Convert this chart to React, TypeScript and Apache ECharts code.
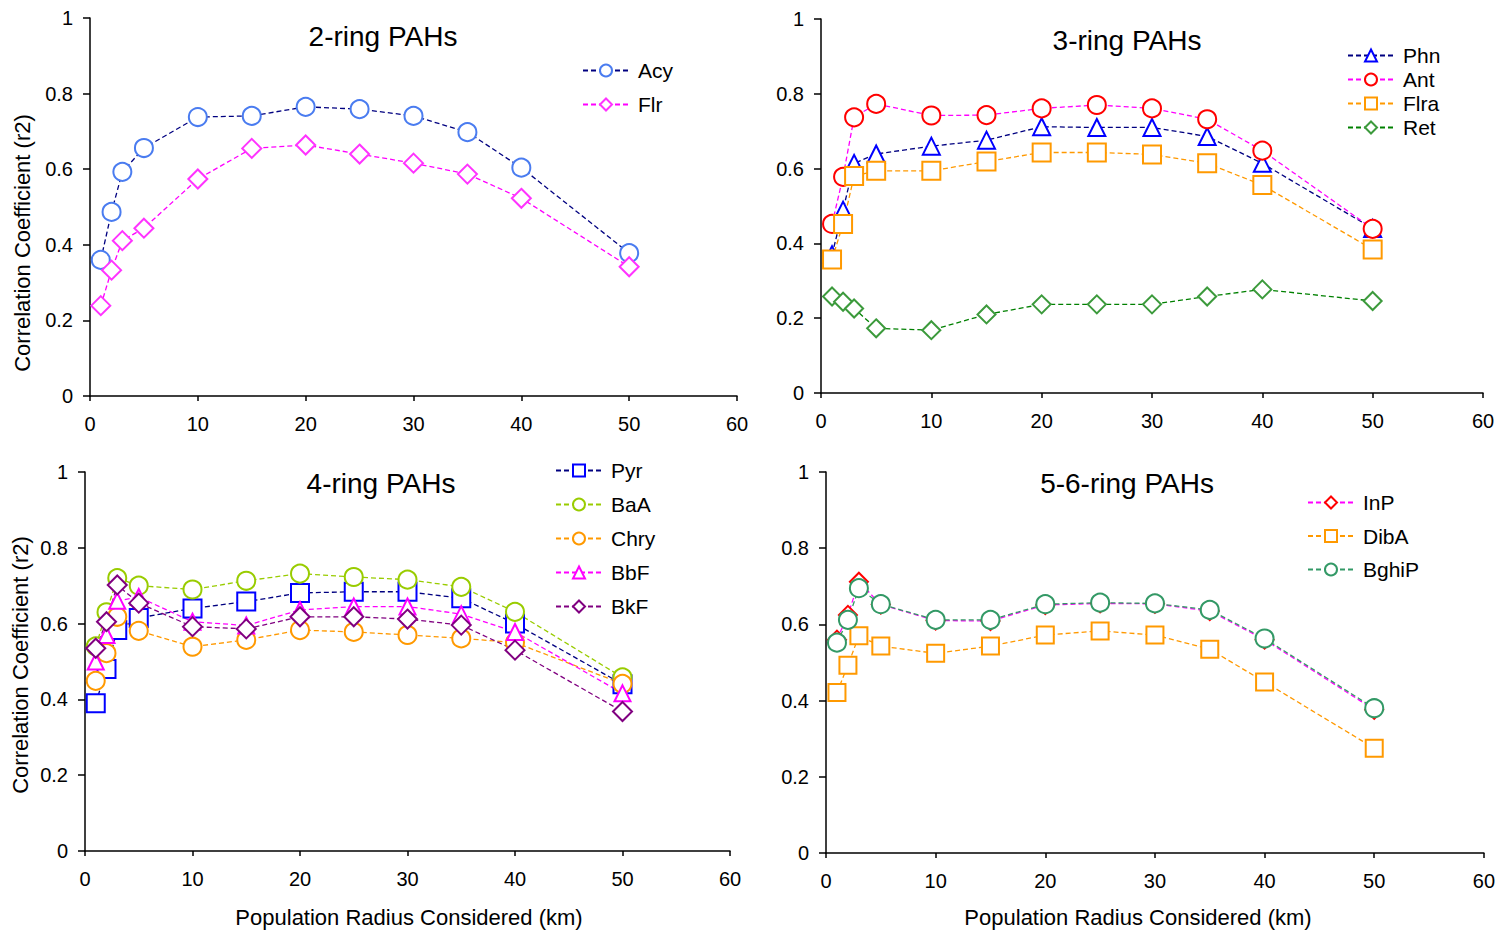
import React, { useEffect, useRef } from "react";
import * as echarts from "echarts";

const XS = [1, 2, 3, 5, 10, 15, 20, 25, 30, 35, 40, 50];
const X_TICKS = [0, 10, 20, 30, 40, 50, 60];
const Y_TICKS = [0, 0.2, 0.4, 0.6, 0.8, 1];

const TITLES = ["2-ring PAHs", "3-ring PAHs", "4-ring PAHs", "5-6-ring PAHs"];
const Y_NAME = "Correlation Coefficient (r2)";
const X_NAME = "Population Radius Considered (km)";

// 2-ring
const acy = [0.36, 0.487, 0.593, 0.656, 0.738, 0.741, 0.765, 0.759, 0.741, 0.698, 0.604, 0.378];
const flr = [0.239, 0.333, 0.411, 0.444, 0.574, 0.655, 0.664, 0.64, 0.616, 0.587, 0.523, 0.342];
// 3-ring
const phn = [0.37, 0.489, 0.614, 0.639, 0.66, 0.676, 0.712, 0.71, 0.71, 0.686, 0.614, 0.44];
const ant = [0.452, 0.578, 0.737, 0.773, 0.742, 0.743, 0.761, 0.77, 0.761, 0.732, 0.648, 0.439];
const flra = [0.357, 0.452, 0.58, 0.594, 0.594, 0.619, 0.643, 0.643, 0.638, 0.614, 0.556, 0.384];
const ret = [0.258, 0.244, 0.226, 0.173, 0.168, 0.21, 0.237, 0.237, 0.237, 0.258, 0.277, 0.246];
// 4-ring
const pyr = [0.39, 0.48, 0.583, 0.615, 0.64, 0.658, 0.681, 0.684, 0.684, 0.667, 0.6, 0.44];
const baa = [0.54, 0.63, 0.72, 0.7, 0.69, 0.713, 0.732, 0.723, 0.716, 0.697, 0.631, 0.458];
const chry = [0.449, 0.522, 0.618, 0.581, 0.539, 0.557, 0.583, 0.578, 0.57, 0.561, 0.55, 0.441];
const bbf = [0.5, 0.57, 0.66, 0.67, 0.605, 0.595, 0.636, 0.645, 0.645, 0.625, 0.578, 0.416];
const bkf = [0.535, 0.605, 0.702, 0.654, 0.592, 0.586, 0.618, 0.618, 0.612, 0.596, 0.53, 0.368];
// 5-6-ring
const inp = [0.56, 0.625, 0.712, 0.652, 0.61, 0.609, 0.651, 0.655, 0.654, 0.635, 0.56, 0.376];
const diba = [0.421, 0.493, 0.57, 0.543, 0.524, 0.543, 0.572, 0.583, 0.572, 0.535, 0.449, 0.275];
const bghip = [0.552, 0.612, 0.695, 0.653, 0.612, 0.612, 0.653, 0.657, 0.655, 0.638, 0.563, 0.38];

const FONT = "'Liberation Sans', Arial, Helvetica, sans-serif";

type SDef = { name: string; values: number[]; line: string; marker: string; symbol: string; size: number; grid: number };

const SERIES: SDef[] = [
  { name: "Acy", values: acy, line: "#000080", marker: "#4a7cf0", symbol: "circle", size: 18, grid: 0 },
  { name: "Flr", values: flr, line: "#ff00ff", marker: "#ff33ff", symbol: "diamond", size: 19, grid: 0 },
  { name: "Phn", values: phn, line: "#000080", marker: "#0000ff", symbol: "triangle", size: 17, grid: 1 },
  { name: "Ant", values: ant, line: "#ff00ff", marker: "#ff0000", symbol: "circle", size: 18, grid: 1 },
  { name: "Flra", values: flra, line: "#ff9900", marker: "#ff9900", symbol: "rect", size: 18, grid: 1 },
  { name: "Ret", values: ret, line: "#008000", marker: "#3c9a3c", symbol: "diamond", size: 18, grid: 1 },
  { name: "Pyr", values: pyr, line: "#000080", marker: "#0000ff", symbol: "rect", size: 18, grid: 2 },
  { name: "BaA", values: baa, line: "#99cc00", marker: "#99cc00", symbol: "circle", size: 18, grid: 2 },
  { name: "Chry", values: chry, line: "#ff9900", marker: "#ff9900", symbol: "circle", size: 18, grid: 2 },
  { name: "BbF", values: bbf, line: "#ff00ff", marker: "#ff00ff", symbol: "triangle", size: 16, grid: 2 },
  { name: "BkF", values: bkf, line: "#800080", marker: "#800080", symbol: "diamond", size: 19, grid: 2 },
  { name: "InP", values: inp, line: "#ff00ff", marker: "#ff0000", symbol: "diamond", size: 18, grid: 3 },
  { name: "DibA", values: diba, line: "#ff9900", marker: "#ff9900", symbol: "rect", size: 17, grid: 3 },
  { name: "BghiP", values: bghip, line: "#339966", marker: "#339966", symbol: "circle", size: 18, grid: 3 },
];

const GRIDS = [
  { left: 90, top: 18, width: 647, height: 378 },
  { left: 821, top: 19, width: 662, height: 374 },
  { left: 85, top: 472, width: 645, height: 379 },
  { left: 826, top: 472, width: 658, height: 381 },
];

const TITLE_POS = [
  { left: 383, top: 22 },
  { left: 1127, top: 26 },
  { left: 381, top: 469 },
  { left: 1127, top: 469 },
];

const LEGEND_POS = [
  { left: 582, top: 60, gap: 13 },
  { left: 1347, top: 45, gap: 3 },
  { left: 555, top: 460, gap: 13 },
  { left: 1307, top: 492, gap: 12.5 },
];

const Y_NAME_POS = [
  { x: 22, y: 243 },
  { x: 20, y: 665 },
];
const X_NAME_POS = [
  { x: 409, y: 917 },
  { x: 1138, y: 917 },
];

export default function App() {
  const ref = useRef<HTMLDivElement>(null);
  useEffect(() => {
    if (!ref.current) return;
    const chart = echarts.init(ref.current, undefined, { renderer: "svg" });
    const axisLine = { show: true, onZero: false, lineStyle: { color: "#000", width: 1.5 } };
    const xAxis = GRIDS.map((_, i) => ({
      type: "value",
      gridIndex: i,
      min: X_TICKS[0],
      max: X_TICKS[X_TICKS.length - 1],
      interval: 10,
      axisLine,
      axisTick: { show: true, length: 5, inside: false, lineStyle: { color: "#000", width: 1.5 } },
      axisLabel: { color: "#000", fontSize: 20, fontFamily: FONT, margin: 18 },
      splitLine: { show: false },
    }));
    const yAxis = GRIDS.map((_, i) => ({
      type: "value",
      gridIndex: i,
      min: Y_TICKS[0],
      max: Y_TICKS[Y_TICKS.length - 1],
      interval: 0.2,
      axisLine,
      axisTick: { show: true, length: 7, inside: false, lineStyle: { color: "#000", width: 1.5 } },
      axisLabel: { color: "#000", fontSize: 20, fontFamily: FONT, margin: 17 },
      splitLine: { show: false },
    }));
    const series = SERIES.map((s) => ({
      type: "line",
      name: s.name,
      xAxisIndex: s.grid,
      yAxisIndex: s.grid,
      data: XS.map((x, k) => [x, s.values[k]]),
      symbol: s.symbol,
      symbolSize: s.size,
      showAllSymbol: true,
      clip: false,
      lineStyle: { color: s.line, width: 1.3, type: [5, 3] },
      itemStyle: { color: "#fff", borderColor: s.marker, borderWidth: 2 },
      emphasis: { disabled: true },
    }));
    const legend = GRIDS.map((_, i) => ({
      show: true,
      orient: "vertical",
      left: LEGEND_POS[i].left,
      top: LEGEND_POS[i].top,
      itemGap: LEGEND_POS[i].gap,
      itemWidth: 46,
      itemHeight: 15,
      padding: 0,
      selectedMode: false,
      textStyle: { color: "#000", fontSize: 21, fontFamily: FONT, padding: [0, 0, 0, 4] },
      data: SERIES.filter((s) => s.grid === i).map((s) => s.name),
    }));
    const title = TITLES.map((t, i) => ({
      text: t,
      left: TITLE_POS[i].left,
      top: TITLE_POS[i].top,
      textAlign: "center",
      padding: 0,
      textStyle: { color: "#000", fontSize: 28, fontWeight: "normal", fontFamily: FONT },
    }));
    const graphic = [
      ...Y_NAME_POS.map((p) => ({
        type: "text",
        x: p.x,
        y: p.y,
        rotation: Math.PI / 2,
        style: {
          text: Y_NAME,
          fill: "#000",
          font: `22px ${FONT}`,
          align: "center",
          verticalAlign: "middle",
        },
      })),
      ...X_NAME_POS.map((p) => ({
        type: "text",
        x: p.x,
        y: p.y,
        style: {
          text: X_NAME,
          fill: "#000",
          font: `22px ${FONT}`,
          align: "center",
          verticalAlign: "middle",
        },
      })),
    ];
    chart.setOption({
      animation: false,
      backgroundColor: "#fff",
      title,
      legend,
      grid: GRIDS.map((g) => ({ ...g, containLabel: false })),
      xAxis,
      yAxis,
      series,
      graphic,
    } as any);
    return () => chart.dispose();
  }, []);
  return (
    <div
      ref={ref}
      style={{ position: "fixed", left: 0, top: 0, width: 1498, height: 931, background: "#fff" }}
    />
  );
}
